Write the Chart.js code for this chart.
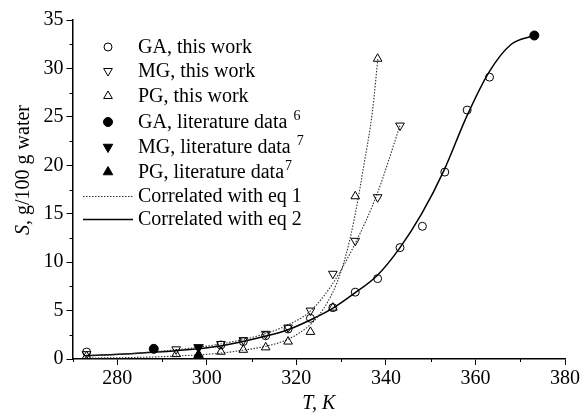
<!DOCTYPE html>
<html>
<head>
<meta charset="utf-8">
<script src="https://cdn.jsdelivr.net/npm/chart.js"></script>
<style>
  body { margin: 0; background: #fff; }
  #wrap { width: 585px; height: 419px; }
</style>
</head>
<body>
<div id="wrap"><canvas id="c"></canvas></div>
<script>
// measured points (T in K, S in g/100 g water)
const gaT = [273.15, 303.15, 308.15, 313.15, 318.15, 323.15, 328.15, 333.15, 338.15, 343.15, 348.15, 353.15, 358.15, 363.15]
const gaS = [0.72, 1.45, 1.8, 2.4, 3.1, 4.2, 5.3, 6.9, 8.3, 11.5, 13.7, 19.3, 25.7, 29.1]
const mgT = [273.15, 293.15, 303.15, 308.15, 313.15, 318.15, 323.15, 328.15, 333.15, 338.15, 343.15]
const mgS = [0.5, 1.0, 1.55, 1.95, 2.6, 3.25, 5.0, 8.8, 12.2, 16.7, 24.1]
const pgT = [273.15, 293.15, 303.15, 308.15, 313.15, 318.15, 323.15, 328.15, 333.15, 338.15]
const pgS = [0.3, 0.5, 0.75, 0.95, 1.2, 1.8, 2.8, 5.3, 16.8, 31.0]
// literature
const gaLitT = [288.15, 373.15]
const gaLitS = [1.05, 33.4]
const mgLitT = [298.15]
const mgLitS = [1.2]
const pgLitT = [298.15]
const pgLitS = [0.45]
// correlation curves
const gaCurveT = [273, 283, 293, 303, 313, 318, 323, 328, 333, 338, 343, 348, 353, 358, 363, 368, 373.15]
const gaCurveS = [0.35, 0.55, 0.85, 1.35, 2.35, 3.0, 4.0, 5.2, 6.8, 8.6, 11.4, 15.0, 19.5, 25.0, 29.6, 32.5, 33.4]
const mgCurveT = [273, 283, 293, 298, 303, 308, 313, 318, 323, 328, 333, 338, 343.15]
const mgCurveS = [0.3, 0.55, 0.95, 1.2, 1.55, 2.0, 2.6, 3.5, 4.9, 7.7, 11.8, 17.0, 24.1]
const pgCurveT = [273, 283, 293, 303, 308, 313, 318, 321, 323, 325, 327, 329, 331, 333, 335, 337, 338.2]
const pgCurveS = [0.1, 0.15, 0.3, 0.6, 0.9, 1.3, 2.0, 2.8, 3.5, 4.5, 5.9, 7.8, 10.6, 14.6, 19.8, 25.6, 31.0]

const xTicks = [280, 300, 320, 340, 360, 380]
const xMinor = [270, 290, 310, 330, 350, 370]
const yTicks = [0, 5, 10, 15, 20, 25, 30, 35]
const yMinor = [2.5, 7.5, 12.5, 17.5, 22.5, 27.5, 32.5]

const legendLabels = ['GA, this work', 'MG, this work', 'PG, this work', 'GA, literature data ', 'MG, literature data ', 'PG, literature data', 'Correlated with eq 1', 'Correlated with eq 2']
const legendSups = ['', '', '', '6', '7', '7', '', '']

const SERIF = '"Liberation Serif", "Times New Roman", serif'

function pts(xs, ys) { return xs.map((x, i) => ({x: x, y: ys[i]})) }

const clear = 'rgba(0,0,0,0)'
function marker(data, style, filled, rot, r) {
  return {
    type: 'scatter', data: data, showLine: false,
    pointStyle: style, pointRotation: rot || 0, pointRadius: r,
    pointBackgroundColor: filled ? '#000' : clear,
    pointBorderColor: '#000', pointBorderWidth: 1
  }
}
function curve(data, dashed) {
  return {
    type: 'line', data: data, showLine: true, pointRadius: 0,
    borderColor: dashed ? '#333' : '#000', borderWidth: dashed ? 1.1 : 1.5,
    borderDash: dashed ? [1.5, 1.5] : [], cubicInterpolationMode: 'monotone', fill: false
  }
}

const datasets = [
  marker(pts(gaT, gaS), 'circle', false, 0, 4),
  marker(pts(mgT, mgS), 'triangle', false, 180, 5),
  marker(pts(pgT, pgS), 'triangle', false, 0, 5),
  marker(pts(gaLitT, gaLitS), 'circle', true, 0, 4.5),
  marker(pts(mgLitT, mgLitS), 'triangle', true, 180, 5.5),
  marker(pts(pgLitT, pgLitS), 'triangle', true, 0, 5.5),
  curve(pts(mgCurveT, mgCurveS), true),
  curve(pts(pgCurveT, pgCurveS), true),
  curve(pts(gaCurveT, gaCurveS), false)
]

// legend, minor ticks and axis titles
const extras = {
  id: 'extras',
  afterDraw(chart) {
    const ctx = chart.ctx
    const xs = chart.scales.x, ys = chart.scales.y
    ctx.save()
    ctx.strokeStyle = '#000'
    ctx.lineWidth = 1
    ctx.beginPath()
    xMinor.forEach(v => { const p = Math.round(xs.getPixelForValue(v)) + 0.5; ctx.moveTo(p, ys.bottom); ctx.lineTo(p, ys.bottom + 3) })
    yMinor.forEach(v => { const p = Math.round(ys.getPixelForValue(v)) + 0.5; ctx.moveTo(xs.left, p); ctx.lineTo(xs.left - 3, p) })
    ctx.stroke()

    // axis titles
    ctx.fillStyle = '#000'
    ctx.textBaseline = 'middle'
    ctx.textAlign = 'center'
    ctx.font = 'italic 20px ' + SERIF
    ctx.fillText('T, K', (xs.left + xs.right) / 2, 404)
    ctx.save()
    ctx.translate(24, 170)
    ctx.rotate(-Math.PI / 2)
    ctx.textAlign = 'left'
    ctx.font = 'italic 20px ' + SERIF
    const a = 'S'
    ctx.font = '20px ' + SERIF
    const rest = ', g/100 g water'
    const wRest = ctx.measureText(rest).width
    ctx.font = 'italic 20px ' + SERIF
    const wA = ctx.measureText(a).width
    const x0 = -(wA + wRest) / 2
    ctx.fillText(a, x0, 0)
    ctx.font = '20px ' + SERIF
    ctx.fillText(rest, x0 + wA, 0)
    ctx.restore()

    // legend
    const rows = [47, 71, 96, 122, 147, 172, 196, 219]
    ctx.textAlign = 'left'
    legendLabels.forEach((t, i) => {
      const y = rows[i]
      if (i < 6) {
        const ds = datasets[i]
        ctx.fillStyle = ds.pointBackgroundColor
        ctx.strokeStyle = '#000'
        ctx.lineWidth = 1
        Chart.helpers.drawPoint(ctx, {pointStyle: ds.pointStyle, radius: ds.pointRadius, rotation: ds.pointRotation, borderWidth: 1}, 108, y)
      } else {
        const solid = i === 7
        ctx.strokeStyle = solid ? '#000' : '#333'
        ctx.lineWidth = solid ? 1.5 : 1.1
        ctx.setLineDash(solid ? [] : [1.5, 1.5])
        ctx.beginPath()
        ctx.moveTo(83, y + 0.5)
        ctx.lineTo(133, y + 0.5)
        ctx.stroke()
        ctx.setLineDash([])
      }
      ctx.fillStyle = '#000'
      ctx.font = '20px ' + SERIF
      ctx.fillText(t, 138, y + 1)
      if (legendSups[i]) {
        const w = ctx.measureText(t).width
        ctx.font = '14px ' + SERIF
        ctx.fillText(legendSups[i], 138 + w + 1, y - 6)
      }
    })
    ctx.restore()
  }
}

new Chart(document.getElementById('c'), {
  type: 'scatter',
  data: { datasets: datasets },
  options: {
    responsive: true,
    maintainAspectRatio: false,
    animation: false,
    events: [],
    layout: { padding: { left: 0, top: 20, right: 20, bottom: 0 } },
    plugins: { legend: { display: false }, tooltip: { enabled: false } },
    scales: {
      x: {
        type: 'linear', min: 270, max: 380,
        afterBuildTicks: s => { s.ticks = xTicks.map(v => ({value: v})) },
        afterFit: s => { s.height = 60 },
        grid: { drawOnChartArea: false, drawTicks: true, tickLength: 6, color: '#000', lineWidth: 1 },
        border: { color: '#000', width: 1.5 },
        ticks: { color: '#000', padding: 2, maxRotation: 0, font: { family: SERIF, size: 20 } }
      },
      y: {
        type: 'linear', min: 0, max: 35,
        afterBuildTicks: s => { s.ticks = yTicks.map(v => ({value: v})) },
        afterFit: s => { s.width = 72.5 },
        grid: { drawOnChartArea: false, drawTicks: true, tickLength: 6, color: '#000', lineWidth: 1 },
        border: { color: '#000', width: 1.5 },
        ticks: { color: '#000', padding: 3, font: { family: SERIF, size: 20 } }
      }
    }
  },
  plugins: [extras]
})
</script>
</body>
</html>
